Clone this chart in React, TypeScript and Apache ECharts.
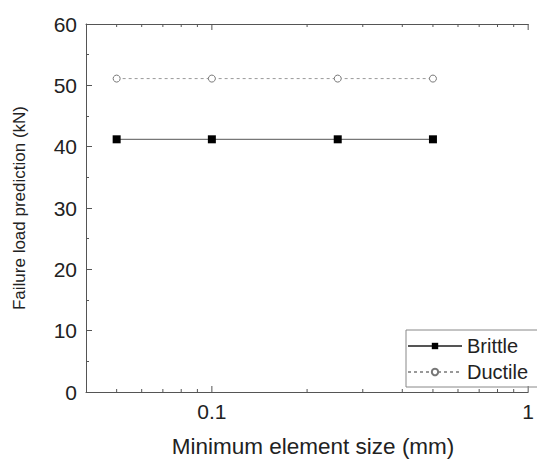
import React, { useEffect, useRef } from "react";
import * as echarts from "echarts";

const sizes = [0.05, 0.1, 0.25, 0.5];
const brittle = [41.2, 41.2, 41.2, 41.2];
const ductile = [51.1, 51.1, 51.1, 51.1];
const majorTicksX = [0.1, 1];
const minorTicksX = [0.05, 0.06, 0.07, 0.08, 0.09, 0.2, 0.3, 0.4, 0.5, 0.6, 0.7, 0.8, 0.9];
const Y_MIN = 0;
const Y_MAX = 60;
const FONT = "'Liberation Sans', Arial, Helvetica, sans-serif";

export default function App() {
  const ref = useRef<HTMLDivElement>(null);
  useEffect(() => {
    if (!ref.current) return;
    const chart = echarts.init(ref.current, undefined, { renderer: "svg" });
    const axisColor = "#555";

    // [x value, y value at axis, tick length, direction (-1 up, 1 down)]
    const tickData: number[][] = [];
    majorTicksX.forEach((v) => {
      tickData.push([v, Y_MIN, 6, -1]);
      tickData.push([v, Y_MAX, 6, 1]);
    });
    minorTicksX.forEach((v) => {
      tickData.push([v, Y_MIN, 3, -1]);
      tickData.push([v, Y_MAX, 3, 1]);
    });

    chart.setOption({
      animation: false,
      backgroundColor: "#fff",
      grid: { left: 86, top: 24, right: 4, bottom: 66, containLabel: false },
      legend: {
        left: 406,
        top: 330,
        orient: "vertical",
        padding: [6, 40, 5, 1],
        itemWidth: 54,
        itemHeight: 8,
        itemGap: 6,
        borderColor: "#888",
        borderWidth: 1,
        textStyle: { fontFamily: FONT, fontSize: 20, color: "#222" },
        data: ["Brittle", "Ductile"],
      },
      xAxis: [
        {
          type: "log",
          min: 0.04,
          max: 1,
          logBase: 10,
          position: "bottom",
          splitLine: { show: false },
          name: "Minimum element size (mm)",
          nameLocation: "middle",
          nameGap: 43,
          nameTextStyle: { fontFamily: FONT, fontSize: 22.5, color: "#222", padding: [0, 0, 0, 12] },
          axisLine: { show: true, onZero: false, lineStyle: { color: axisColor, width: 1 } },
          axisTick: { show: false },
          minorTick: { show: false },
          axisLabel: {
            fontFamily: FONT,
            fontSize: 21,
            color: "#222",
            margin: 9,
            formatter: (v: number) =>
              majorTicksX.some((t) => Math.abs(t - v) < 1e-9) ? String(v) : "",
          },
        },
        {
          type: "log",
          min: 0.04,
          max: 1,
          logBase: 10,
          position: "top",
          splitLine: { show: false },
          axisLine: { show: true, onZero: false, lineStyle: { color: axisColor, width: 1 } },
          axisTick: { show: false },
          minorTick: { show: false },
          axisLabel: { show: false },
        },
      ],
      yAxis: {
        type: "value",
        min: Y_MIN,
        max: Y_MAX,
        interval: 10,
        name: "Failure load prediction (kN)",
        nameLocation: "middle",
        nameGap: 58,
        nameTextStyle: { fontFamily: FONT, fontSize: 17, color: "#222" },
        axisLine: { show: true, onZero: false, lineStyle: { color: axisColor, width: 1 } },
        axisTick: { show: true, inside: true, length: 6, lineStyle: { color: axisColor } },
        minorTick: { show: true, splitNumber: 2, length: 3, lineStyle: { color: axisColor } },
        splitLine: { show: false },
        axisLabel: { fontFamily: FONT, fontSize: 21, color: "#222", margin: 9 },
      },
      series: [
        {
          type: "custom",
          name: "ticks",
          xAxisIndex: 0,
          yAxisIndex: 0,
          silent: true,
          clip: false,
          encode: { x: 0, y: 1 },
          data: tickData,
          renderItem: (_params: any, api: any) => {
            const p = api.coord([api.value(0), api.value(1)]);
            const len = api.value(2);
            const dir = api.value(3);
            return {
              type: "line",
              shape: { x1: p[0], y1: p[1], x2: p[0], y2: p[1] + dir * len },
              style: { stroke: axisColor, lineWidth: 1 },
            };
          },
        },
        {
          name: "Brittle",
          type: "line",
          xAxisIndex: 0,
          data: sizes.map((s, i) => [s, brittle[i]]),
          symbol: "rect",
          symbolSize: 8,
          itemStyle: { color: "#000", borderWidth: 0 },
          lineStyle: { color: "#555", width: 1, type: "solid" },
        },
        {
          name: "Ductile",
          type: "line",
          xAxisIndex: 0,
          data: sizes.map((s, i) => [s, ductile[i]]),
          symbol: "circle",
          symbolSize: 7,
          itemStyle: { color: "#fff", borderColor: "#777", borderWidth: 1 },
          lineStyle: { color: "#999", width: 1, type: [3, 3] },
        },
      ],
    });
    return () => chart.dispose();
  }, []);
  return (
    <div
      ref={ref}
      style={{ position: "fixed", left: 0, top: 0, width: 537, height: 463, background: "#fff" }}
    />
  );
}
